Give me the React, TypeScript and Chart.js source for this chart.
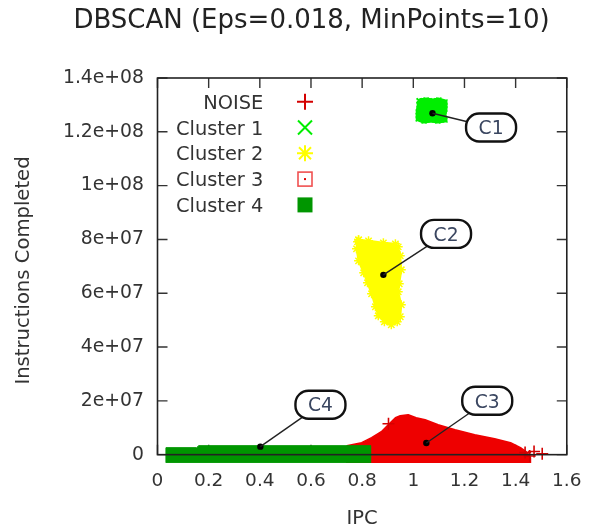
import React, { useEffect, useRef } from 'react';
import { Chart, registerables } from 'chart.js';

Chart.register(...registerables);

const FONT = "'DejaVu Sans', 'Liberation Sans', sans-serif";

const chartTitle = 'DBSCAN (Eps=0.018, MinPoints=10)';
const xAxisTitle = 'IPC';
const yAxisTitle = 'Instructions Completed';

const seriesNames = ['NOISE', 'Cluster 1', 'Cluster 2', 'Cluster 3', 'Cluster 4'];
const seriesSymbols = ['plus', 'cross', 'star', 'boxdot', 'box'];
const seriesColors = ['#d40000', '#00ee00', '#ffff00', '#ee0000', '#009600'];

const xTickValues = [0, 0.2, 0.4, 0.6, 0.8, 1, 1.2, 1.4, 1.6];
const xTickLabels = ['0', '0.2', '0.4', '0.6', '0.8', '1', '1.2', '1.4', '1.6'];
const yTickValues = [0, 2e7, 4e7, 6e7, 8e7, 1e8, 1.2e8, 1.4e8];
const yTickLabels = ['0', '2e+07', '4e+07', '6e+07', '8e+07', '1e+08', '1.2e+08', '1.4e+08'];

// Unclustered samples
const noiseIpc = [0.903, 1.437, 1.455, 1.472, 1.504];
const noiseInstr = [1.15e7, 8e5, -5e5, 1.2e6, 3e5];

// Cluster outlines (IPC, instructions completed)
const cluster1Ipc = [1.023, 1.05, 1.077, 1.1, 1.124, 1.124, 1.12, 1.124, 1.096, 1.069, 1.042, 1.019, 1.019, 1.023, 1.023];
const cluster1Instr = [1.315e8, 1.318e8, 1.315e8, 1.318e8, 1.311e8, 1.285e8, 1.263e8, 1.244e8, 1.24e8, 1.244e8, 1.24e8, 1.248e8, 1.274e8, 1.3e8, 1.315e8];

const cluster2Ipc = [0.786, 0.825, 0.883, 0.93, 0.941, 0.949, 0.953, 0.945, 0.941, 0.953, 0.949, 0.937, 0.914, 0.887, 0.863, 0.852, 0.837, 0.821, 0.806, 0.786, 0.778, 0.782, 0.786];
const cluster2Instr = [7.984e7, 7.947e7, 7.873e7, 7.836e7, 7.724e7, 7.39e7, 6.87e7, 6.35e7, 6.053e7, 5.57e7, 5.125e7, 4.939e7, 4.828e7, 4.939e7, 5.162e7, 5.496e7, 5.979e7, 6.387e7, 6.759e7, 7.204e7, 7.65e7, 7.91e7, 7.984e7];

const cluster3Ipc = [0.74, 0.798, 0.837, 0.875, 0.906, 0.93, 0.949, 0.98, 1.011, 1.046, 1.097, 1.163, 1.24, 1.318, 1.38, 1.419, 1.446, 1.458, 1.458, 0.74, 0.74];
const cluster3Instr = [3.34e6, 4.46e6, 6.31e6, 8.54e6, 1.151e7, 1.374e7, 1.448e7, 1.485e7, 1.374e7, 1.3e7, 1.114e7, 9.28e6, 7.43e6, 5.94e6, 4.46e6, 2.6e6, 7.4e5, -1.11e6, -3.0e6, -3.0e6, 3.34e6];

const cluster4Ipc = [0.033, 0.153, 0.161, 0.833, 0.833, 0.033, 0.033];
const cluster4Instr = [2.6e6, 2.6e6, 3.34e6, 3.34e6, -3.0e6, -3.0e6, 2.6e6];

// Callout labels: anchor inside each cluster and label position
const calloutNames = ['C1', 'C2', 'C3', 'C4'];
const calloutAnchorIpc = [1.075, 0.883, 1.051, 0.402];
const calloutAnchorInstr = [1.269e8, 6.684e7, 4.34e6, 2.97e6];
const calloutBoxIpc = [1.304, 1.128, 1.289, 0.637];
const calloutBoxInstr = [1.216e8, 8.207e7, 2.005e7, 1.857e7];

const zip = (xs: number[], ys: number[]) => xs.map((x, i) => ({ x, y: ys[i] }));

function drawSymbol(ctx: CanvasRenderingContext2D, kind: string, cx: number, cy: number, color: string) {
  ctx.save();
  ctx.strokeStyle = color;
  ctx.fillStyle = color;
  ctx.lineWidth = 2;
  ctx.beginPath();
  if (kind === 'plus') {
    ctx.moveTo(cx - 8, cy); ctx.lineTo(cx + 8, cy);
    ctx.moveTo(cx, cy - 8); ctx.lineTo(cx, cy + 8);
    ctx.stroke();
  } else if (kind === 'cross') {
    ctx.moveTo(cx - 7, cy - 7); ctx.lineTo(cx + 7, cy + 7);
    ctx.moveTo(cx + 7, cy - 7); ctx.lineTo(cx - 7, cy + 7);
    ctx.stroke();
  } else if (kind === 'star') {
    ctx.moveTo(cx - 8, cy); ctx.lineTo(cx + 8, cy);
    ctx.moveTo(cx, cy - 8); ctx.lineTo(cx, cy + 8);
    ctx.moveTo(cx - 6, cy - 6); ctx.lineTo(cx + 6, cy + 6);
    ctx.moveTo(cx + 6, cy - 6); ctx.lineTo(cx - 6, cy + 6);
    ctx.stroke();
  } else if (kind === 'boxdot') {
    ctx.lineWidth = 1.6;
    ctx.strokeStyle = '#f05050';
    ctx.strokeRect(cx - 7, cy - 7, 14, 14);
    ctx.fillStyle = '#e00000';
    ctx.fillRect(cx - 1, cy - 1, 2, 2);
  } else {
    ctx.fillRect(cx - 7.5, cy - 7.5, 15, 15);
  }
  ctx.restore();
}

const overlayPlugin = {
  id: 'overlay',
  beforeDatasetsDraw(chart: any) {
    const { ctx, scales } = chart;
    const x = scales.x;
    const y = scales.y;
    const left = x.getPixelForValue(0);
    const right = x.getPixelForValue(1.6);
    const top = y.getPixelForValue(1.4e8);
    const bottom = y.getPixelForValue(0);
    const len = 10;
    ctx.save();
    ctx.strokeStyle = '#333';
    ctx.lineWidth = 1.4;
    ctx.beginPath();
    xTickValues.forEach((v) => {
      const px = x.getPixelForValue(v);
      ctx.moveTo(px, bottom); ctx.lineTo(px, bottom - len);
      ctx.moveTo(px, top); ctx.lineTo(px, top + len);
    });
    yTickValues.forEach((v) => {
      const py = y.getPixelForValue(v);
      ctx.moveTo(left, py); ctx.lineTo(left + len, py);
      ctx.moveTo(right, py); ctx.lineTo(right - len, py);
    });
    ctx.stroke();
    ctx.restore();
  },
  afterDatasetsDraw(chart: any) {
    const { ctx, scales } = chart;
    const x = scales.x;
    const y = scales.y;
    const left = x.getPixelForValue(0);
    const right = x.getPixelForValue(1.6);
    const top = y.getPixelForValue(1.4e8);
    const bottom = y.getPixelForValue(0);
    ctx.save();

    // plot border
    ctx.strokeStyle = '#222';
    ctx.lineWidth = 1.6;
    ctx.strokeRect(left, top, right - left, bottom - top);

    // callouts
    calloutNames.forEach((name, i) => {
      const ax = x.getPixelForValue(calloutAnchorIpc[i]);
      const ay = y.getPixelForValue(calloutAnchorInstr[i]);
      const bx = x.getPixelForValue(calloutBoxIpc[i]);
      const by = y.getPixelForValue(calloutBoxInstr[i]);
      ctx.strokeStyle = '#222';
      ctx.lineWidth = 1.4;
      ctx.beginPath();
      ctx.moveTo(ax, ay);
      ctx.lineTo(bx, by);
      ctx.stroke();
      const w = 50;
      const h = 28;
      ctx.beginPath();
      ctx.roundRect(bx - w / 2, by - h / 2, w, h, 13);
      ctx.fillStyle = '#fff';
      ctx.fill();
      ctx.lineWidth = 2.4;
      ctx.strokeStyle = '#111';
      ctx.stroke();
      ctx.fillStyle = '#3a4660';
      ctx.font = `18.7px ${FONT}`;
      ctx.textAlign = 'center';
      ctx.textBaseline = 'alphabetic';
      ctx.fillText(name, bx, by + 6.8);
    });

    // key
    const area = chart.chartArea;
    const textRight = area.left + 105.8;
    const symbolX = area.left + 147.5;
    seriesNames.forEach((name, i) => {
      const cy = area.top + 23.7 + i * 25.8;
      ctx.fillStyle = '#333';
      ctx.font = `19.4px ${FONT}`;
      ctx.textAlign = 'right';
      ctx.textBaseline = 'alphabetic';
      ctx.fillText(name, textRight, cy + 7.1);
      drawSymbol(ctx, seriesSymbols[i], symbolX, cy, seriesColors[i]);
    });

    // chart title
    ctx.fillStyle = '#222';
    ctx.font = `26px ${FONT}`;
    ctx.textAlign = 'center';
    ctx.textBaseline = 'alphabetic';
    ctx.fillText(chartTitle, 311.5, 28.3);
    ctx.restore();
  },
};

export default function App() {
  const canvasRef = useRef<HTMLCanvasElement | null>(null);

  useEffect(() => {
    const canvas = canvasRef.current;
    if (!canvas) return;

    const polygon = (label: string, xs: number[], ys: number[], color: string, extra: any) => ({
      label,
      data: zip(xs, ys),
      showLine: true,
      fill: 'shape',
      tension: 0,
      backgroundColor: color,
      borderColor: color,
      pointBackgroundColor: color,
      pointBorderColor: color,
      borderJoinStyle: 'round',
      ...extra,
    });

    const chart = new Chart(canvas, {
      type: 'scatter',
      data: {
        datasets: [
          {
            label: 'anchors',
            data: zip(calloutAnchorIpc, calloutAnchorInstr),
            pointRadius: 3.2,
            pointBackgroundColor: '#000',
            pointBorderColor: '#000',
            pointBorderWidth: 0,
          },
          {
            label: seriesNames[0],
            data: zip(noiseIpc, noiseInstr),
            pointStyle: 'cross',
            pointRadius: 6,
            pointBorderWidth: 1.6,
            pointBorderColor: seriesColors[0],
            pointBackgroundColor: seriesColors[0],
          },
          polygon(seriesNames[4], cluster4Ipc, cluster4Instr, seriesColors[4], { borderWidth: 1, pointRadius: 0 }),
          polygon(seriesNames[3], cluster3Ipc, cluster3Instr, seriesColors[3], { borderWidth: 1.5, pointRadius: 0 }),
          polygon(seriesNames[2], cluster2Ipc, cluster2Instr, seriesColors[2], {
            borderWidth: 2,
            pointStyle: 'star',
            pointRadius: 4.5,
            pointBorderWidth: 1.5,
          }),
          polygon(seriesNames[1], cluster1Ipc, cluster1Instr, seriesColors[1], {
            borderWidth: 5,
            pointStyle: 'crossRot',
            pointRadius: 3.5,
            pointBorderWidth: 1.5,
          }),
        ],
      },
      options: {
        animation: false,
        responsive: false,
        events: [],
        layout: { padding: { left: 0, top: 78, right: 19.5, bottom: 0 } },
        plugins: {
          legend: { display: false },
          title: { display: false },
          tooltip: { enabled: false },
        },
        scales: {
          x: {
            type: 'linear',
            min: 0,
            max: 1.6,
            afterBuildTicks: (s: any) => {
              s.ticks = xTickValues.map((v) => ({ value: v }));
            },
            afterFit: (s: any) => {
              s.height = 68;
            },
            grid: { display: false, drawTicks: false },
            border: { display: false },
            ticks: {
              padding: 7.5,
              color: '#333',
              font: { family: FONT, size: 18.5 },
              maxRotation: 0,
              autoSkip: false,
              callback: (_v: any, i: number) => xTickLabels[i],
            },
            title: {
              display: true,
              text: xAxisTitle,
              color: '#333',
              font: { family: FONT, size: 19.5 },
              padding: { top: 0, bottom: 0 },
            },
          },
          y: {
            type: 'linear',
            min: -3.1e6,
            max: 1.4e8,
            afterBuildTicks: (s: any) => {
              s.ticks = yTickValues.map((v) => ({ value: v }));
            },
            afterFit: (s: any) => {
              s.width = 157.5;
            },
            grid: { display: false, drawTicks: false },
            border: { display: false },
            ticks: {
              padding: 13.5,
              color: '#333',
              font: { family: FONT, size: 18.8 },
              autoSkip: false,
              callback: (_v: any, i: number) => yTickLabels[i],
            },
            title: {
              display: true,
              text: yAxisTitle,
              color: '#333',
              font: { family: FONT, size: 19.6 },
              padding: { top: 11.7, bottom: 0 },
            },
          },
        },
      },
      plugins: [overlayPlugin],
    } as any);

    return () => chart.destroy();
  }, []);

  return (
    <div style={{ position: 'absolute', left: 0, top: 0, width: 589, height: 531, background: '#fff' }}>
      <canvas ref={canvasRef} width={589} height={531} style={{ display: 'block', width: 589, height: 531 }} />
    </div>
  );
}
